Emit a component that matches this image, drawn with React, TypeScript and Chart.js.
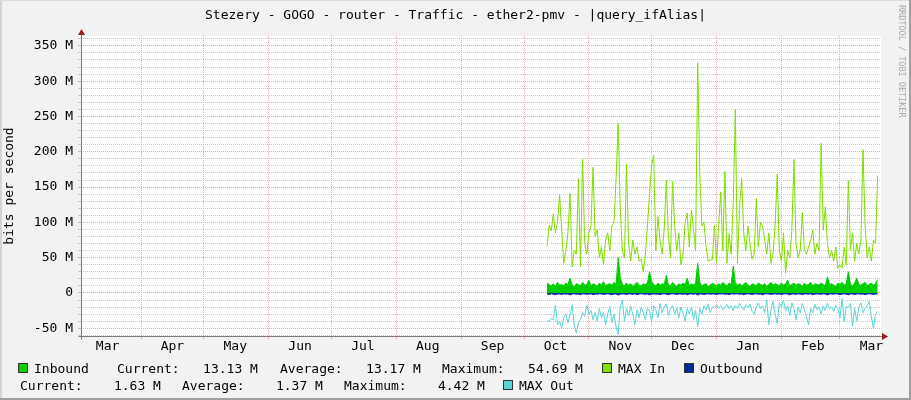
import React, { useEffect, useRef } from 'react';
import { Chart, registerables } from 'chart.js';

Chart.register(...registerables);

// Time axis expressed in days since 1 March of the first year shown
const START_DAY = 225; // first sample (mid-October)
const X_MIN = 2.3;
const X_MAX = 384.6;
const MONTH_STARTS = [31, 61, 92, 122, 153, 184, 214, 245, 275, 306, 337, 365];
const LABEL_DAYS = [15, 46, 76, 107, 137, 168, 199, 229, 260, 290, 321, 352, 380];
const MONTH_LABELS = ['Mar', 'Apr', 'May', 'Jun', 'Jul', 'Aug', 'Sep', 'Oct', 'Nov', 'Dec', 'Jan', 'Feb', 'Mar'];

const Y_MIN = -61;
const Y_MAX = 364;

// values in M (bits per second / 1e6), one per day
const MAX_IN = [
  66, 96, 88, 112, 85, 100, 139, 90, 42, 60,
  85, 141, 37, 60, 55, 162, 37, 189, 70, 55,
  85, 95, 178, 80, 90, 50, 65, 40, 75, 85,
  60, 95, 100, 160, 240, 120, 60, 50, 183, 70,
  45, 75, 55, 65, 45, 48, 30, 55, 95, 141,
  181, 195, 60, 108, 75, 55, 90, 160, 80, 50,
  158, 95, 60, 85, 40, 55, 100, 113, 65, 117,
  90, 60, 326, 172, 95, 100, 65, 45, 47, 47,
  96, 42, 95, 143, 60, 172, 42, 84, 55, 129,
  260, 42, 122, 162, 85, 60, 95, 70, 48, 55,
  134, 65, 100, 95, 75, 55, 85, 42, 55, 95,
  168, 60, 45, 85, 28, 60, 50, 89, 189, 70,
  50, 60, 114, 61, 55, 65, 75, 89, 55, 70,
  60, 212, 89, 122, 70, 50, 60, 45, 65, 35,
  40, 35, 65, 40, 159, 60, 85, 45, 70, 55,
  75, 203, 95, 50, 65, 45, 75, 70, 166,
];

const INBOUND = [
  14, 12, 10, 13, 9, 15, 11, 12, 10, 14,
  12, 21, 11, 9, 13, 12, 10, 15, 11, 12,
  18, 10, 13, 12, 9, 14, 11, 16, 10, 12,
  13, 11, 15, 12, 50, 22, 12, 10, 14, 11,
  13, 9, 12, 15, 11, 10, 13, 12, 14, 30,
  16, 12, 10, 14, 11, 13, 12, 25, 11, 10,
  15, 12, 9, 13, 11, 14, 12, 21, 10, 13,
  11, 14, 42, 15, 10, 12, 13, 9, 11, 14,
  12, 10, 13, 11, 15, 12, 10, 14, 12, 38,
  14, 11, 13, 10, 12, 15, 11, 9, 13, 12,
  10, 14, 12, 11, 13, 9, 12, 15, 11, 13,
  12, 10, 14, 11, 13, 18, 10, 12, 14, 11,
  13, 12, 9, 14, 11, 12, 15, 10, 13, 12,
  11, 14, 12, 10, 23, 12, 13, 11, 9, 14,
  12, 15, 11, 13, 30, 12, 10, 14, 21, 12,
  11, 13, 15, 10, 12, 14, 11, 13, 19,
];

const OUTBOUND = [
  -1.5, -2, -1.2, -1.8, -2.5, -1.4, -1.6, -2.2, -1.3, -1.7,
  -1.4, -2.8, -1.5, -1.2, -1.9, -1.6, -2.4, -1.3, -1.5, -2,
  -1.6, -1.3, -2.6, -1.5, -1.8, -1.2, -1.4, -2.1, -1.6, -1.3,
  -1.7, -2.5, -1.4, -1.5, -3, -1.8, -1.3, -1.6, -2.2, -1.4,
  -1.5, -1.9, -1.3, -2.4, -1.6, -1.2, -1.5, -2, -1.4, -2.7,
  -1.6, -1.3, -1.8, -1.5, -2.3, -1.4, -1.2, -1.7, -2.5, -1.5,
  -1.3, -1.6, -2.1, -1.4, -1.5, -1.9, -1.2, -2.6, -1.5, -1.4,
  -1.8, -1.3, -2.9, -1.6, -1.4, -2.2, -1.5, -1.3, -1.7, -1.4,
  -1.6, -2.3, -1.4, -1.5, -1.2, -1.8, -1.5, -2.4, -1.3, -1.6,
  -1.5, -1.2, -1.9, -1.4, -2.5, -1.6, -1.3, -1.5, -2.1, -1.4,
  -1.3, -1.7, -1.5, -2.6, -1.4, -1.2, -1.6, -2, -1.5, -1.3,
  -1.8, -1.4, -2.3, -1.5, -1.2, -1.6, -2.7, -1.4, -1.5, -1.9,
  -1.3, -1.6, -2.2, -1.5, -1.4, -1.7, -1.3, -2.5, -1.6, -1.4,
  -1.5, -2, -1.3, -1.6, -2.8, -1.4, -1.5, -1.8, -1.2, -1.6,
  -2.4, -1.5, -1.3, -1.7, -2.6, -1.4, -1.6, -2.1, -1.5, -1.3,
  -1.8, -1.4, -2.5, -1.5, -1.3, -1.6, -2.2, -1.4, -1.6,
];

const MAX_OUT = [
  -40, -40, -36, -38, -17, -45, -40, -50, -35, -30,
  -42, -32, -17, -45, -57, -42, -38, -28, -33, -17,
  -30, -25, -38, -28, -40, -22, -35, -28, -45, -30,
  -19, -42, -30, -48, -59, -20, -10, -40, -22, -32,
  -19, -30, -45, -24, -35, -20, -28, -38, -22, -26,
  -40, -18, -24, -35, -15, -28, -20, -16, -32, -22,
  -18, -30, -22, -35, -20, -28, -40, -22, -30, -20,
  -38, -25, -48, -22, -30, -18, -24, -16, -28, -20,
  -20, -17, -22, -18, -24, -20, -16, -22, -18, -25,
  -18, -22, -15, -20, -24, -17, -21, -16, -26, -30,
  -20, -14, -22, -18, -28, -10, -45, -25, -12, -30,
  -43, -15, -20, -10, -25, -18, -32, -14, -22, -38,
  -20, -28, -15, -24, -34, -45, -22, -28, -16, -24,
  -20, -30, -18, -25, -15, -22, -20, -26, -18, -22,
  -35, -8, -40, -20, -20, -15, -47, -22, -40, -20,
  -14, -28, -22, -18, -12, -34, -50, -30, -26,
];

const C_INBOUND = '#00CF00';
const C_MAXIN = '#7FDD00';
const C_OUTBOUND = '#002A97';
const C_MAXOUT = '#5CD4D4';
const C_MGRID = '#F0A4A4';
const C_GRID = '#C8C8C8';

const FONT = "'DejaVu Sans Mono', monospace";

const toPoints = (arr: number[]) => arr.map((y, i) => ({ x: START_DAY + i, y }));

const rrdPlugin = {
  id: 'rrdDecor',
  beforeDraw(chart: any) {
    const { ctx, chartArea: a } = chart;
    ctx.save();
    ctx.fillStyle = '#FFFFFF';
    ctx.fillRect(a.left, a.top, a.right - a.left, a.bottom - a.top);
    ctx.restore();
  },
  afterDatasetsDraw(chart: any) {
    const { ctx, chartArea: a } = chart;
    const ax = Math.round(a.left) + 0.5;
    const ay = Math.round(a.bottom) + 0.5;
    ctx.save();
    ctx.strokeStyle = '#7A7A7A';
    ctx.lineWidth = 1;
    ctx.beginPath();
    ctx.moveTo(ax, a.top - 2);
    ctx.lineTo(ax, ay + 3);
    ctx.moveTo(ax - 3, ay);
    ctx.lineTo(a.right + 2, ay);
    ctx.stroke();
    ctx.fillStyle = '#9C1A1A';
    ctx.beginPath();
    ctx.moveTo(a.right + 1, ay - 3.5);
    ctx.lineTo(a.right + 1, ay + 3.5);
    ctx.lineTo(a.right + 7, ay);
    ctx.closePath();
    ctx.fill();
    ctx.beginPath();
    ctx.moveTo(ax - 3.5, a.top - 1);
    ctx.lineTo(ax + 3.5, a.top - 1);
    ctx.lineTo(ax, a.top - 7);
    ctx.closePath();
    ctx.fill();
    ctx.restore();
  },
};

const legendText: React.CSSProperties = {
  position: 'absolute',
  whiteSpace: 'pre',
  fontFamily: FONT,
  fontSize: 13,
  lineHeight: '13px',
  color: '#000',
};

function Box({ x, y, color }: { x: number; y: number; color: string }) {
  return (
    <div
      style={{
        position: 'absolute',
        left: x,
        top: y,
        width: 10,
        height: 10,
        boxSizing: 'border-box',
        border: '1px solid #333',
        background: color,
      }}
    />
  );
}

function T({ x, y, text }: { x: number; y: number; text: string }) {
  return <div style={{ ...legendText, left: x, top: y }}>{text}</div>;
}

export default function App() {
  const ref = useRef<HTMLCanvasElement>(null);

  useEffect(() => {
    if (!ref.current) return;
    const xTicks = [...MONTH_STARTS, ...LABEL_DAYS].sort((p, q) => p - q);
    const chart = new Chart(ref.current, {
      type: 'line',
      data: {
        datasets: [
          {
            label: 'MAX In',
            data: toPoints(MAX_IN),
            borderColor: C_MAXIN,
            borderWidth: 1,
            pointRadius: 0,
            fill: false,
            tension: 0,
          },
          {
            label: 'MAX Out',
            data: toPoints(MAX_OUT),
            borderColor: C_MAXOUT,
            borderWidth: 1,
            pointRadius: 0,
            fill: false,
            tension: 0,
          },
          {
            label: 'Inbound',
            data: toPoints(INBOUND),
            borderColor: C_INBOUND,
            backgroundColor: C_INBOUND,
            borderWidth: 1,
            pointRadius: 0,
            fill: 'origin',
            tension: 0,
          },
          {
            label: 'Outbound',
            data: toPoints(OUTBOUND),
            borderColor: C_OUTBOUND,
            backgroundColor: C_OUTBOUND,
            borderWidth: 1,
            pointRadius: 0,
            fill: 'origin',
            tension: 0,
          },
        ],
      },
      options: {
        animation: false,
        responsive: false,
        devicePixelRatio: 1,
        events: [],
        layout: { padding: { left: 0, right: 30, top: 36, bottom: 0 } },
        plugins: {
          legend: { display: false },
          tooltip: { enabled: false },
          title: { display: false },
        },
        scales: {
          x: {
            type: 'linear',
            min: X_MIN,
            max: X_MAX,
            afterBuildTicks: (axis: any) => {
              axis.ticks = xTicks.map((v) => ({ value: v }));
            },
            afterFit: (scale: any) => {
              scale.height = 64;
            },
            ticks: {
              autoSkip: false,
              maxRotation: 0,
              minRotation: 0,
              padding: 0,
              color: '#000',
              font: { family: FONT, size: 13 },
              callback: (v: any) => {
                const idx = LABEL_DAYS.indexOf(v);
                return idx >= 0 ? MONTH_LABELS[idx] : '';
              },
            },
            grid: {
              color: (ctx: any) =>
                ctx.tick && MONTH_STARTS.includes(ctx.tick.value) ? C_MGRID : 'rgba(0,0,0,0)',
              tickColor: (ctx: any) =>
                ctx.tick && MONTH_STARTS.includes(ctx.tick.value) ? C_MGRID : 'rgba(0,0,0,0)',
              tickLength: 3,
              lineWidth: 1,
            },
            border: { display: false, dash: [1, 1] },
          },
          y: {
            type: 'linear',
            min: Y_MIN,
            max: Y_MAX,
            afterFit: (scale: any) => {
              scale.width = 81;
            },
            ticks: {
              stepSize: 10,
              includeBounds: false,
              autoSkip: false,
              padding: 5,
              color: '#000',
              font: { family: FONT, size: 13 },
              callback: (v: any) => {
                const n = Number(v);
                if (Math.round(n) % 50 !== 0) return '';
                return n === 0 ? '0' : `${n} M`;
              },
            },
            grid: {
              color: (ctx: any) =>
                ctx.tick && Math.round(ctx.tick.value) % 50 === 0 ? C_MGRID : C_GRID,
              tickColor: (ctx: any) =>
                ctx.tick && Math.round(ctx.tick.value) % 50 === 0 ? C_MGRID : C_GRID,
              tickLength: 3,
              lineWidth: 1,
            },
            border: { display: false, dash: [1, 1] },
            title: {
              display: true,
              text: 'bits per second',
              color: '#000',
              font: { family: FONT, size: 13 },
              padding: { top: 2, bottom: 0 },
            },
          },
        },
      },
      plugins: [rrdPlugin],
    } as any);
    return () => chart.destroy();
  }, []);

  const L1 = 362;
  const L2 = 378.5;

  return (
    <div
      style={{
        position: 'fixed',
        left: 0,
        top: 0,
        width: 911,
        height: 400,
        background: '#F2F2F2',
        overflow: 'hidden',
      }}
    >
      <canvas
        ref={ref}
        width={911}
        height={400}
        style={{ position: 'absolute', left: 0, top: 0, width: 911, height: 400 }}
      />
      <div
        style={{
          position: 'absolute',
          left: 0,
          top: 8,
          width: 911,
          textAlign: 'center',
          whiteSpace: 'pre',
          fontFamily: FONT,
          fontSize: 13,
          lineHeight: '13px',
          color: '#000',
        }}
      >
        Stezery - GOGO - router - Traffic - ether2-pmv - |query_ifAlias|
      </div>
      <div
        style={{
          position: 'absolute',
          left: 897,
          top: 5,
          writingMode: 'vertical-rl',
          fontFamily: FONT,
          fontSize: 8.5,
          lineHeight: '9px',
          color: '#A8A8A8',
          whiteSpace: 'pre',
        }}
      >
        RRDTOOL / TOBI OETIKER
      </div>

      <Box x={18} y={L1 + 1} color={C_INBOUND} />
      <T x={34} y={L1} text="Inbound" />
      <T x={117} y={L1} text="Current:   13.13 M" />
      <T x={280} y={L1} text="Average:   13.17 M" />
      <T x={442} y={L1} text="Maximum:   54.69 M" />
      <Box x={602} y={L1 + 1} color={C_MAXIN} />
      <T x={618} y={L1} text="MAX In" />
      <Box x={684} y={L1 + 1} color={C_OUTBOUND} />
      <T x={700} y={L1} text="Outbound" />

      <T x={20} y={L2} text="Current:    1.63 M" />
      <T x={182} y={L2} text="Average:    1.37 M" />
      <T x={344} y={L2} text="Maximum:    4.42 M" />
      <Box x={503} y={L2 + 1} color={C_MAXOUT} />
      <T x={519} y={L2} text="MAX Out" />

      <div style={{ position: 'absolute', left: 0, top: 0, width: 2, height: 400, background: '#D4D4D4' }} />
      <div style={{ position: 'absolute', left: 0, top: 0, width: 911, height: 1, background: '#DCDCDC' }} />
      <div style={{ position: 'absolute', left: 909, top: 0, width: 2, height: 400, background: '#A0A0A0' }} />
      <div style={{ position: 'absolute', left: 0, top: 398, width: 911, height: 2, background: '#A0A0A0' }} />
    </div>
  );
}
